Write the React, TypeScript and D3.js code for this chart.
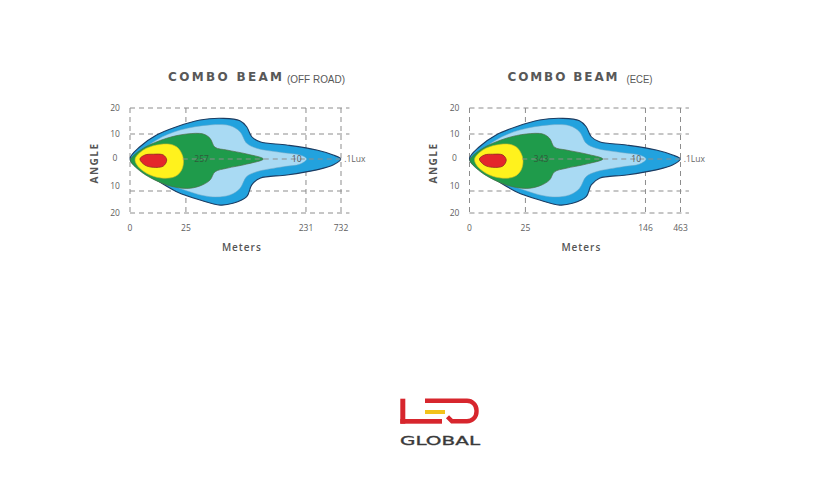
import React from "react";
import * as d3 from "d3";

// distance units along the beam: 0..100 (100 = farthest tick), angle in degrees
const angleTicks = [20, 10, 0, -10, -20];
const angleTickLabels = ["20", "10", "0", "10", "20"];
const distTickUnits = [0, 26.5, 83.4, 100];
const offRoadTickLabels = ["0", "25", "231", "732"];
const eceTickLabels = ["0", "25", "146", "463"];

const outerContour: [number, number][] = [
  [0, 0], [4.7, 4.9], [12.6, 9.6], [22.1, 12.8], [33.2, 15.4], [44.2, 16.0], [52.1, 15.1],
  [55.3, 12.8], [57.7, 8.9], [61.6, 6.9], [74.3, 5.6], [88.5, 3.6], [96.3, 1.6], [99.9, 0],
  [96.2, -1.9], [88.5, -3.4], [74.3, -5.0], [61.6, -6.0], [57.7, -8.1], [55.3, -12.6],
  [48.8, -15.6], [42.7, -16.4], [33.2, -14.1], [22.1, -10.3], [12.6, -6.6], [4.7, -3.4],
];
const lightContour: [number, number][] = [
  [1.4, 0], [12.6, 7.6], [23.7, 11.5], [37.9, 13.5], [47.4, 13.2], [52.1, 10.9], [55.3, 6.3],
  [60.0, 4.3], [72.7, 2.5], [80.6, 1.6], [83.7, 0], [80.6, -1.6], [72.7, -2.4], [60.0, -4.0],
  [55.3, -5.5], [52.1, -9.2], [47.4, -11.8], [37.9, -12.6], [23.7, -9.2], [12.6, -6.0], [1.4, -0.8],
];
const greenContour: [number, number][] = [
  [0.3, 0], [6.3, 4.3], [17.4, 8.3], [26.9, 10], [34.7, 10], [37.9, 8.3], [40.3, 4.7],
  [45.8, 3.6], [55.3, 2], [63.2, 0], [55.3, -1.6], [45.8, -2.9], [40.3, -4.0], [37.9, -6.6],
  [33.2, -8.4], [26.9, -9.2], [17.4, -8.1], [6.3, -4.5], [0.3, -0.8],
];
const yellowContour: [number, number][] = [
  [2.4, 0], [6.3, 3.6], [12.6, 5.6], [19.0, 5.9], [22.9, 4.3], [25.3, 0], [24.5, -3.4],
  [21.3, -5.5], [15.8, -6.0], [9.5, -5.0], [3.9, -2.4],
];
const redContour: [number, number][] = [
  [4.7, 0], [7.1, 1.6], [11.0, 1.9], [15.8, 1.6], [17.4, -0.3], [15.8, -2.2], [11.0, -2.6], [7.1, -1.9],
];

const FONT = "'Open Sans', 'DejaVu Sans', sans-serif";
const GRID = "#8d8d8d";

type ChartProps = {
  dx: number;
  subtitle: string;
  subtitleLen: number;
  titleLen: number;
  hotLabel: string;
  tickLabels: string[];
};

function Chart({ dx, subtitle, subtitleLen, titleLen, hotLabel, tickLabels }: ChartProps) {
  const x = d3.scaleLinear().domain([0, 100]).range([130 + dx, 341 + dx]);
  const y = d3.scaleLinear().domain(angleTicks).range([108, 134, 159, 191, 213]);
  const yLab = d3.scaleLinear().domain(angleTicks).range([108, 134, 158, 186, 213]);
  const shape = d3
    .line<[number, number]>()
    .x((d) => x(d[0]))
    .y((d) => y(d[1]))
    .curve(d3.curveCatmullRomClosed.alpha(0.5));

  const gridEnd = 104;
  return (
    <g>
      <text x={x(0) + 38} y={80.5} fontFamily="'DejaVu Sans', sans-serif" fontWeight={700} fontSize={12}
        fill="#585858" textLength={titleLen} lengthAdjust="spacing">COMBO BEAM</text>
      <text x={x(0) + 157} y={82.5} fontFamily="'Liberation Sans Narrow', 'Liberation Sans', sans-serif"
        fontSize={11} fill="#585858" textLength={subtitleLen} lengthAdjust="spacingAndGlyphs">{subtitle}</text>

      {/* grid */}
      {angleTicks.filter((a) => a !== 0).map((a) => (
        <line key={"h" + a} x1={x(0)} x2={x(gridEnd)} y1={y(a)} y2={y(a)}
          stroke={GRID} strokeWidth={1} strokeDasharray="5,4" />
      ))}
      {distTickUnits.map((u) => (
        <line key={"v" + u} x1={x(u)} x2={x(u)} y1={y(20)} y2={y(-20)}
          stroke={GRID} strokeWidth={1} strokeDasharray="5,4" />
      ))}

      {/* beam contours */}
      <path d={shape(outerContour) || ""} fill="#22a2de" stroke="#1c3c62" strokeWidth={1.1} />
      <path d={shape(lightContour) || ""} fill="#a9daf3" stroke="#6ea8c6" strokeWidth={0.5} />
      <path d={shape(greenContour) || ""} fill="#1f9b4b" stroke="#4e6b48" strokeWidth={0.7} />
      <path d={shape(yellowContour) || ""} fill="#fff21d" stroke="#c9b72a" strokeWidth={0.6} />
      <line x1={x(25)} x2={x(100)} y1={y(0)} y2={y(0)} stroke={GRID} strokeWidth={1} strokeDasharray="5,4" />
      <path d={shape(redContour) || ""} fill="#e4262b" stroke="#8e2a22" strokeWidth={0.8} />

      <text x={x(30.5)} y={y(0)} dy="0.35em" fontFamily={FONT} fontSize={8.5} fill="#2f5a3a">{hotLabel}</text>
      <text x={x(79)} y={y(0)} dy="0.35em" textAnchor="middle" fontFamily={FONT} fontSize={8.5} fill="#555">10</text>
      <text x={x(101.5)} y={y(0)} dy="0.35em" fontFamily={FONT} fontSize={8.5} fill="#666">.1Lux</text>

      {/* axes labels */}
      {angleTicks.map((a, i) => (
        <text key={"yl" + a} x={x(0) - 15} y={yLab(a)} dy="0.35em" textAnchor="middle"
          fontFamily={FONT} fontSize={8.5} fill="#5e5e5e">{angleTickLabels[i]}</text>
      ))}
      {distTickUnits.map((u, i) => (
        <text key={"xl" + u} x={x(u)} y={231} textAnchor="middle" fontFamily={FONT}
          fontSize={8.5} fill="#5e5e5e">{tickLabels[i]}</text>
      ))}
      <text x={x(53)} y={250.5} textAnchor="middle" fontFamily={FONT} fontWeight={600}
        fontSize={10} fill="#555" letterSpacing={1}>Meters</text>
      <text transform={`translate(${x(0) - 36},${163}) rotate(-90)`} textAnchor="middle" dy="0.35em"
        fontFamily={FONT} fontWeight={700} fontSize={10} fill="#555" letterSpacing={1.5}>ANGLE</text>
    </g>
  );
}

function Logo() {
  const red = "#d7262d";
  return (
    <g>
      <rect x={400.3} y={398.7} width={5} height={25} fill={red} />
      <rect x={400.3} y={419} width={41.7} height={4.7} fill={red} />
      <rect x={425} y={410} width={20} height={4} fill="#f2c21b" />
      <path d="M425,400.7 H467 A9.5,9.5 0 0 1 476.5,410.2 V411.8 A9.5,9.5 0 0 1 467,421.3 H452 L447.5,416.8"
        fill="none" stroke={red} strokeWidth={4.4} />
      <text x={400} y={445} fontFamily="'DejaVu Sans', sans-serif" fontSize={11.5} fill="#3a3a3a"
        stroke="#3a3a3a" strokeWidth={0.3} textLength={80} lengthAdjust="spacingAndGlyphs">GLOBAL</text>
    </g>
  );
}

export default function App() {
  return (
    <svg width={817} height={489} style={{ position: "absolute", left: 0, top: 0, background: "#fff" }}>
      <rect width={817} height={489} fill="#fff" />
      <Chart dx={0} subtitle="(OFF ROAD)" subtitleLen={58} titleLen={114} hotLabel="257" tickLabels={offRoadTickLabels} />
      <Chart dx={339.5} subtitle="(ECE)" subtitleLen={26} titleLen={110} hotLabel="343" tickLabels={eceTickLabels} />
      <Logo />
    </svg>
  );
}
